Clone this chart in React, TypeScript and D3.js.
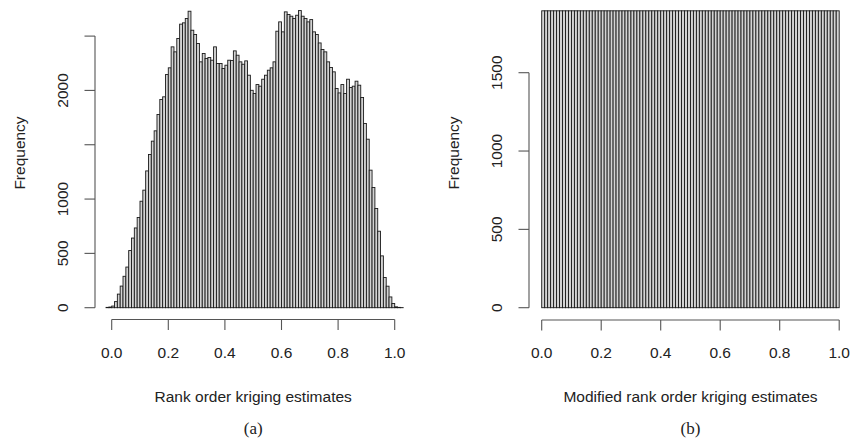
import React from "react";
import * as d3 from "d3";

// Left histogram: counts per bin of width 0.01, first bin starts at -0.02
const leftStart = -0.02;
const leftBinWidth = 0.01;
const leftCounts = [
  3, 6, 15, 56, 125, 199, 289, 374, 526, 641,
  734, 830, 980, 1082, 1259, 1410, 1533, 1628, 1778, 1916,
  1941, 2146, 2208, 2401, 2355, 2478, 2610, 2622, 2662, 2729,
  2554, 2515, 2432, 2263, 2340, 2294, 2303, 2278, 2401, 2248,
  2248, 2202, 2232, 2278, 2275, 2364, 2324, 2263, 2241, 2272,
  2140, 2001, 1972, 2054, 2039, 2103, 2140, 2186, 2208, 2263,
  2545, 2631, 2539, 2723, 2699, 2683, 2662, 2692, 2735, 2683,
  2662, 2631, 2652, 2539, 2515, 2437, 2377, 2355, 2263, 2211,
  2171, 2018, 1977, 2054, 1972, 2103, 2027, 2039, 2085, 2048,
  1935, 1696, 1551, 1266, 1106, 913, 704, 477, 278, 198,
  99, 39, 8, 3, 1,
];

// Right histogram: counts per bin of width 0.01 from 0 to 1
const rightStart = 0;
const rightBinWidth = 0.01;
const rightCounts = [
  1895, 1895, 1895, 1895, 1895, 1895, 1895, 1895, 1895, 1895,
  1895, 1895, 1895, 1895, 1895, 1895, 1895, 1895, 1895, 1895,
  1895, 1895, 1895, 1895, 1895, 1895, 1895, 1895, 1895, 1895,
  1895, 1895, 1895, 1895, 1895, 1895, 1895, 1895, 1895, 1895,
  1895, 1895, 1895, 1895, 1895, 1895, 1895, 1895, 1895, 1895,
  1895, 1895, 1895, 1895, 1895, 1895, 1895, 1895, 1895, 1895,
  1895, 1895, 1895, 1895, 1895, 1895, 1895, 1895, 1895, 1895,
  1895, 1895, 1895, 1895, 1895, 1895, 1895, 1895, 1895, 1895,
  1895, 1895, 1895, 1895, 1895, 1895, 1895, 1895, 1895, 1895,
  1895, 1895, 1895, 1895, 1895, 1895, 1895, 1895, 1895, 1895,
];

const xTicks = [0, 0.2, 0.4, 0.6, 0.8, 1.0];
const leftYTicks = [0, 500, 1000, 1500, 2000, 2500];
const leftYLabels = ["0", "500", "1000", "", "2000", ""];
const rightYTicks = [0, 500, 1000, 1500];
const rightYLabels = ["0", "500", "1000", "1500"];

const leftXTitle = "Rank order kriging estimates";
const rightXTitle = "Modified rank order kriging estimates";
const yTitle = "Frequency";
const captions = ["(a)", "(b)"];

const FONT = "'Liberation Sans', Arial, Helvetica, sans-serif";
const FS = 15.5;
const AXIS = "#555";

type PanelProps = {
  counts: number[];
  start: number;
  binW: number;
  xDomainRange: [number, number];
  yDomain: [number, number];
  yRange: [number, number];
  yTicks: number[];
  yLabels: string[];
  yAxisX: number;
  xAxisY: number;
  xTitle: string;
  caption: string;
};

function Panel(p: PanelProps) {
  const x = d3.scaleLinear().domain([0, 1]).range(p.xDomainRange);
  const y = d3.scaleLinear().domain(p.yDomain).range(p.yRange);
  const tick = 10.5;
  const cx = (p.xDomainRange[0] + p.xDomainRange[1]) / 2;
  const yTop = y(p.yTicks[p.yTicks.length - 1]);
  return (
    <g>
      {p.counts.map((c, i) => {
        const x0 = p.start + i * p.binW;
        const x1 = x0 + p.binW;
        return (
          <rect
            key={i}
            x={x(x0)}
            width={x(x1) - x(x0)}
            y={y(c)}
            height={Math.max(0, y(0) - y(c))}
            fill="#d3d3d3"
            stroke="#1a1a1a"
            strokeWidth={0.9}
          />
        );
      })}
      {/* x axis */}
      <line x1={x(xTicks[0])} x2={x(xTicks[xTicks.length - 1])} y1={p.xAxisY} y2={p.xAxisY} stroke={AXIS} strokeWidth={1.1} />
      {xTicks.map((t, i) => (
        <g key={i}>
          <line x1={x(t)} x2={x(t)} y1={p.xAxisY} y2={p.xAxisY + tick} stroke={AXIS} strokeWidth={1.1} />
          <text x={x(t)} y={p.xAxisY + 38} textAnchor="middle" fontFamily={FONT} fontSize={FS} fill="#222">
            {t.toFixed(1)}
          </text>
        </g>
      ))}
      {/* y axis */}
      <line x1={p.yAxisX} x2={p.yAxisX} y1={y(0)} y2={yTop} stroke={AXIS} strokeWidth={1.1} />
      {p.yTicks.map((t, i) => (
        <g key={i}>
          <line x1={p.yAxisX - tick} x2={p.yAxisX} y1={y(t)} y2={y(t)} stroke={AXIS} strokeWidth={1.1} />
          {p.yLabels[i] !== "" && (
            <text
              transform={`translate(${p.yAxisX - 27},${y(t)}) rotate(-90)`}
              textAnchor="middle"
              fontFamily={FONT}
              fontSize={FS}
              fill="#222"
            >
              {p.yLabels[i]}
            </text>
          )}
        </g>
      ))}
      <text
        transform={`translate(${p.yAxisX - 70},153) rotate(-90)`}
        textAnchor="middle"
        fontFamily={FONT}
        fontSize={FS}
        fill="#222"
      >
        {yTitle}
      </text>
      <text x={cx} y={402} textAnchor="middle" fontFamily={FONT} fontSize={FS} fill="#222">
        {p.xTitle}
      </text>
      <text x={cx} y={434} textAnchor="middle" fontFamily="'Liberation Serif', 'DejaVu Serif', serif" fontSize={17} fill="#222">
        {p.caption}
      </text>
    </g>
  );
}

export default function App() {
  return (
    <svg
      width={852}
      height={442}
      style={{ position: "absolute", left: 0, top: 0, background: "#fff" }}
    >
      <rect width={852} height={442} fill="#fff" />
      <Panel
        counts={leftCounts}
        start={leftStart}
        binW={leftBinWidth}
        xDomainRange={[111.7, 394.7]}
        yDomain={[0, 2500]}
        yRange={[307.7, 36.1]}
        yTicks={leftYTicks}
        yLabels={leftYLabels}
        yAxisX={95}
        xAxisY={319.5}
        xTitle={leftXTitle}
        caption={captions[0]}
      />
      <Panel
        counts={rightCounts}
        start={rightStart}
        binW={rightBinWidth}
        xDomainRange={[541.7, 839.2]}
        yDomain={[0, 1500]}
        yRange={[307.7, 72.7]}
        yTicks={rightYTicks}
        yLabels={rightYLabels}
        yAxisX={529}
        xAxisY={320}
        xTitle={rightXTitle}
        caption={captions[1]}
      />
    </svg>
  );
}
